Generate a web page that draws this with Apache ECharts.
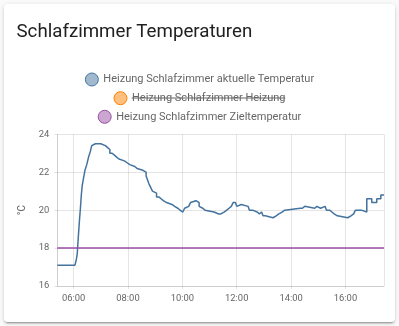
<!DOCTYPE html>
<html><head><meta charset="utf-8">
<script src="https://cdn.jsdelivr.net/npm/echarts@6/dist/echarts.min.js"></script>
<style>
html,body{margin:0;padding:0;background:#fafafa;width:399px;height:326px;overflow:hidden}
#card{position:absolute;left:4px;top:4px;width:391px;height:318px;background:#fff;border-radius:4px;box-shadow:0 2px 2px 0 rgba(0,0,0,.14),0 1px 5px 0 rgba(0,0,0,.12),0 3px 1px -2px rgba(0,0,0,.2)}
#chart{width:391px;height:318px}
</style></head><body><div id="card"><div id="chart"></div></div>
<script>
// ---- data ----
const chartTitle = 'Schlafzimmer Temperaturen';
const seriesNames = ['Heizung Schlafzimmer aktuelle Temperatur', 'Heizung Schlafzimmer Heizung', 'Heizung Schlafzimmer Zieltemperatur'];
const axisStart = '05:24';
const axisEnd = '17:25';
const yTicks = [16, 18, 20, 22, 24];
const tempTimes = ['05:24','06:03','06:06','06:08','06:09','06:11','06:13','06:15','06:17','06:19','06:22','06:25','06:29','06:33','06:37','06:40','06:44','06:48','06:52','07:00','07:10','07:15','07:20','07:25','07:30','07:35','07:40','07:52','07:58','08:04','08:15','08:20','08:33','08:40','08:43','08:46','08:50','08:54','08:58','09:03','09:08','09:13','09:18','09:25','09:37','09:43','09:50','09:55','10:01','10:05','10:09','10:14','10:18','10:22','10:30','10:34','10:37','10:41','10:45','10:50','11:10','11:20','11:25','11:32','11:38','11:43','11:48','11:52','11:57','12:00','12:03','12:10','12:25','12:28','12:35','12:45','12:50','12:55','12:58','13:03','13:20','13:27','13:33','13:40','13:46','13:50','14:20','14:25','14:30','14:52','14:57','15:05','15:15','15:18','15:25','15:30','15:35','15:42','16:05','16:08','16:12','16:18','16:22','16:35','16:38','16:47','16:58','17:09','17:18','17:25'];
const tempValues = [17.1,17.1,17.4,17.7,18.1,18.8,19.5,20.1,20.8,21.3,21.7,22.1,22.4,22.8,23.1,23.4,23.5,23.6,23.5,23.4,23.3,23.2,23.0,22.9,22.8,22.7,22.6,22.5,22.4,22.3,22.2,22.1,22.0,21.8,21.6,21.4,21.2,21.0,20.9,20.7,20.6,20.5,20.4,20.3,20.2,20.1,20.0,19.9,20.0,20.1,20.2,20.3,20.4,20.5,20.5,20.4,20.2,20.1,20.0,19.9,19.8,19.8,19.9,20.0,20.1,20.2,20.3,20.4,20.3,20.2,20.3,20.2,20.1,20.0,19.9,19.8,19.9,19.8,19.7,19.6,19.7,19.8,19.9,20.0,20.0,20.1,20.1,20.2,20.1,20.2,20.1,20.2,20.1,20.0,19.9,19.8,19.7,19.6,19.6,19.7,19.8,19.9,20.0,20.0,19.9,20.6,20.4,20.6,20.8,20.8];
const heatingTimes = [];
const heatingValues = [];
const targetTimes = ['05:24','17:25'];
const targetValues = [18, 18];

// ---- helpers ----
function toDate(hm){const p=hm.split(':');return new Date(2024,0,15,+p[0],+p[1]).getTime();}
function pairs(ts,vs){return ts.map((t,i)=>[toDate(t),vs[i]]);}

const colors = ['#44739e','#ff7f00','#984ea3'];
const fills = ['rgba(68,115,158,0.5)','rgba(255,127,0,0.5)','rgba(152,78,163,0.5)'];
const textColor = '#666';
const legendFont = 11;
const legendTops = [68.5, 87.2, 105.8];

const chart = echarts.init(document.getElementById('chart'), null, {renderer:'canvas'});
const W = 391;

// strikethrough for hidden series legend label
const cv = document.createElement('canvas').getContext('2d');
cv.font = legendFont + 'px Roboto';
const w2 = cv.measureText(seriesNames[1]).width;
const tot2 = 13 + 5 + w2;
const x2 = (W - tot2) / 2 + 18;

const gridColor = 'rgba(0,0,0,0.1)';

chart.setOption({
  animation:false,
  title:{text:chartTitle,left:12.5,top:19,padding:0,textStyle:{fontFamily:'Roboto',fontSize:18.7,fontWeight:'normal',color:'#212121'}},
  legend: seriesNames.map((n,i)=>({
    data:[{name:n,itemStyle:{color:fills[i],borderColor:colors[i],borderWidth:1}}],
    left:'center', top:legendTops[i], padding:0, icon:'circle', itemWidth:13, itemHeight:13,
    selectedMode:false,
    textStyle:{fontFamily:'Roboto',fontSize:legendFont,color:textColor}
  })),
  graphic:[{type:'line',shape:{x1:x2,y1:legendTops[1]+6.8,x2:x2+w2,y2:legendTops[1]+6.8},style:{stroke:textColor,lineWidth:1},silent:true}],
  grid:{left:53.3,top:130.3,right:11,bottom:36,containLabel:false},
  xAxis:{type:'time',min:toDate(axisStart),max:toDate(axisEnd),splitNumber:4,minInterval:7200001,
    axisLine:{show:true,lineStyle:{color:gridColor}},
    axisTick:{show:true,length:3,lineStyle:{color:gridColor}},
    splitLine:{show:true,lineStyle:{color:gridColor}},
    axisLabel:{formatter:'{HH}:{mm}',fontFamily:'Roboto',fontSize:9.4,color:textColor,margin:8,hideOverlap:false}
  },
  yAxis:{type:'value',min:yTicks[0],max:yTicks[yTicks.length-1],interval:2,
    name:'°C',nameLocation:'middle',nameGap:20,nameRotate:90,
    nameTextStyle:{fontFamily:'Roboto',fontSize:10,color:textColor},
    axisLine:{show:true,lineStyle:{color:gridColor}},
    axisTick:{show:true,length:3,lineStyle:{color:gridColor}},
    splitLine:{show:true,lineStyle:{color:gridColor}},
    axisLabel:{fontFamily:'Roboto',fontSize:9.4,color:textColor,margin:8}
  },
  series:[
    {name:seriesNames[0],type:'line',step:'end',symbol:'none',data:pairs(tempTimes,tempValues),lineStyle:{color:colors[0],width:1.5},itemStyle:{color:colors[0]}},
    {name:seriesNames[1],type:'line',step:'end',symbol:'none',data:pairs(heatingTimes,heatingValues),lineStyle:{color:colors[1],width:1.5},itemStyle:{color:colors[1]}},
    {name:seriesNames[2],type:'line',step:'end',symbol:'none',data:pairs(targetTimes,targetValues),lineStyle:{color:colors[2],width:1.5},itemStyle:{color:colors[2]}}
  ]
});
</script></body></html>
